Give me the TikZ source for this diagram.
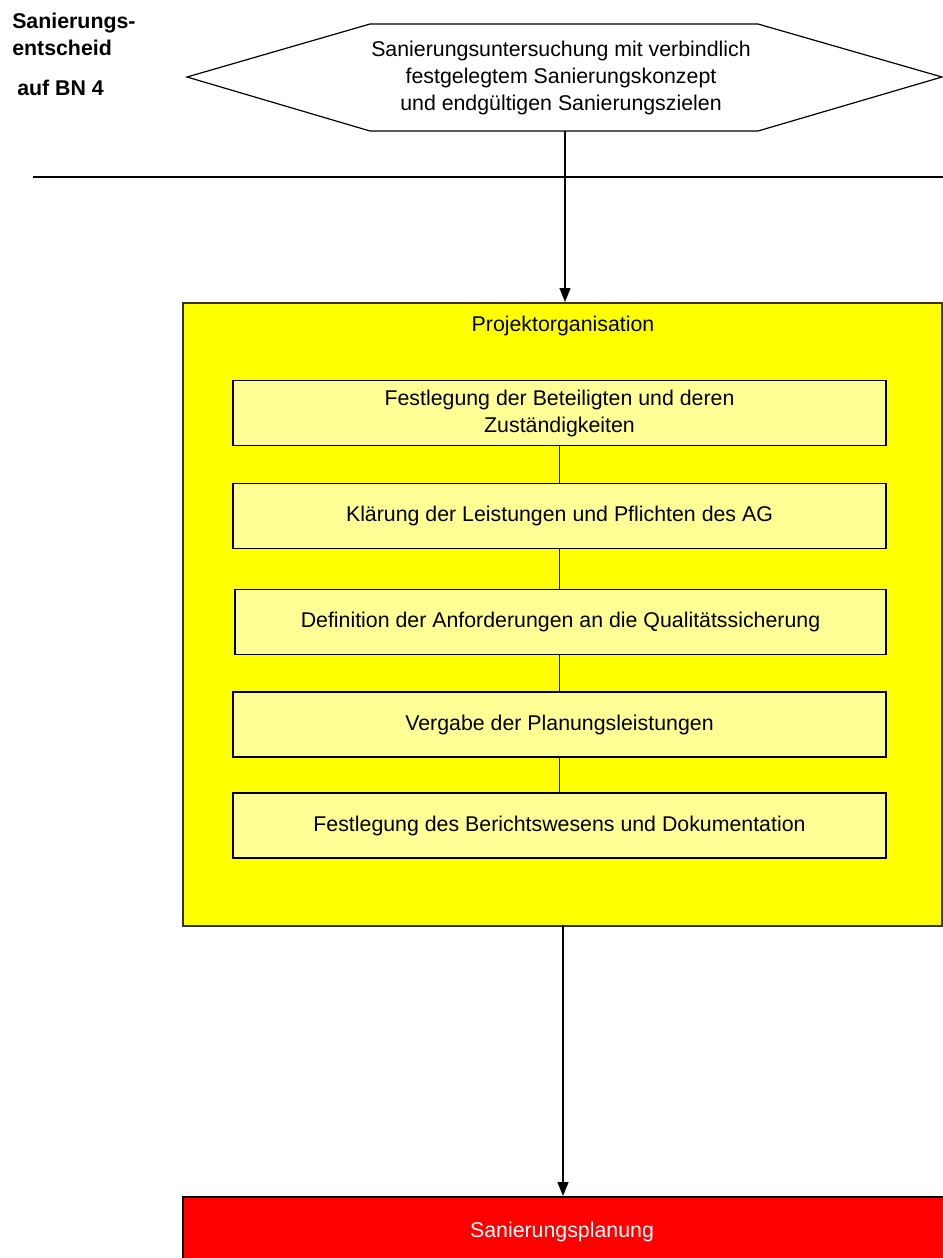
\documentclass[tikz,border=0pt]{standalone}
\usepackage{fontspec}
\setmainfont{Liberation Sans}
\usetikzlibrary{arrows.meta}
\definecolor{paleyellow}{RGB}{255,255,150}
\definecolor{yel}{RGB}{255,255,0}
\definecolor{rd}{RGB}{255,0,0}
\tikzset{
  px/.style={x=0.75pt,y=-0.75pt},
  lbl/.style={font=\fontsize{16}{20.25}\selectfont, align=center},
  inner/.style={draw=black, line width=1.3pt, fill=paleyellow, minimum width=653*0.75pt, minimum height=65*0.75pt, inner sep=0pt, lbl},
  conn/.style={draw=black, line width=0.9pt},
  arr/.style={conn, -{Triangle[length=14*0.75pt,width=11*0.75pt]}},
  side/.style={anchor=base west, inner sep=0pt, font=\bfseries\fontsize{16}{20}\selectfont},
}
\begin{document}
\begin{tikzpicture}[px]
\useasboundingbox (0,0) rectangle (943,1258);
% left label
\node[side] (side1) at (12,28) {Sanierungs-};
\node[side] (side2) at (12,55) {entscheid};
\node[side] (bn) at (17,95.5) {auf BN 4};
% hexagon
\draw[line width=0.9pt] (187,77) -- (370,24) -- (758,24) -- (942,77) -- (758,131) -- (370,131) -- cycle;
\node[lbl] (hex) at (561,78) {Sanierungsuntersuchung mit verbindlich\\festgelegtem Sanierungskonzept\\und endgültigen Sanierungszielen};
\coordinate (hexb) at (565,131);
% horizontal divider
\coordinate (divl) at (33,177);
\coordinate (divr) at (943,177);
\draw[conn] (divl) -- (divr);
% yellow container
\node[draw=black!80, line width=1.5pt, fill=yel, minimum width=759*0.75pt, minimum height=623*0.75pt, inner sep=0pt, anchor=north west] (proj) at (182,302) {};
\node[lbl] (projt) at (563,326) {Projektorganisation};
\node[inner] (b1) at (559.5,413) {Festlegung der Beteiligten und deren\\Zuständigkeiten};
\node[inner] (b2) at (559.5,516) {Klärung der Leistungen und Pflichten des AG};
\node[inner, minimum width=651*0.75pt] (b3) at (560.5,622) {Definition der Anforderungen an die Qualitätssicherung};
\node[inner] (b4) at (559.5,724.5) {Vergabe der Planungsleistungen};
\node[inner] (b5) at (559.5,825.5) {Festlegung des Berichtswesens und Dokumentation};
\draw[conn] (b1.south) -- (b2.north);
\draw[conn] (b2.south) -- (b3.north -| b2.south);
\draw[conn] (b3.south -| b2.south) -- (b4.north);
\draw[conn] (b4.south) -- (b5.north);
% red box
\node[draw=black, line width=1.5pt, fill=rd, minimum width=761*0.75pt, minimum height=80*0.75pt, inner sep=0pt, anchor=north west] (plan) at (182,1196) {};
\node[lbl, text=white] (plant) at (562,1232) {Sanierungsplanung};
% arrows
\draw[arr] (hexb) -- (hexb |- proj.north);
\coordinate (projb) at (563,925);
\draw[arr] (projb) -- (projb |- plan.north);
\end{tikzpicture}
\end{document}
